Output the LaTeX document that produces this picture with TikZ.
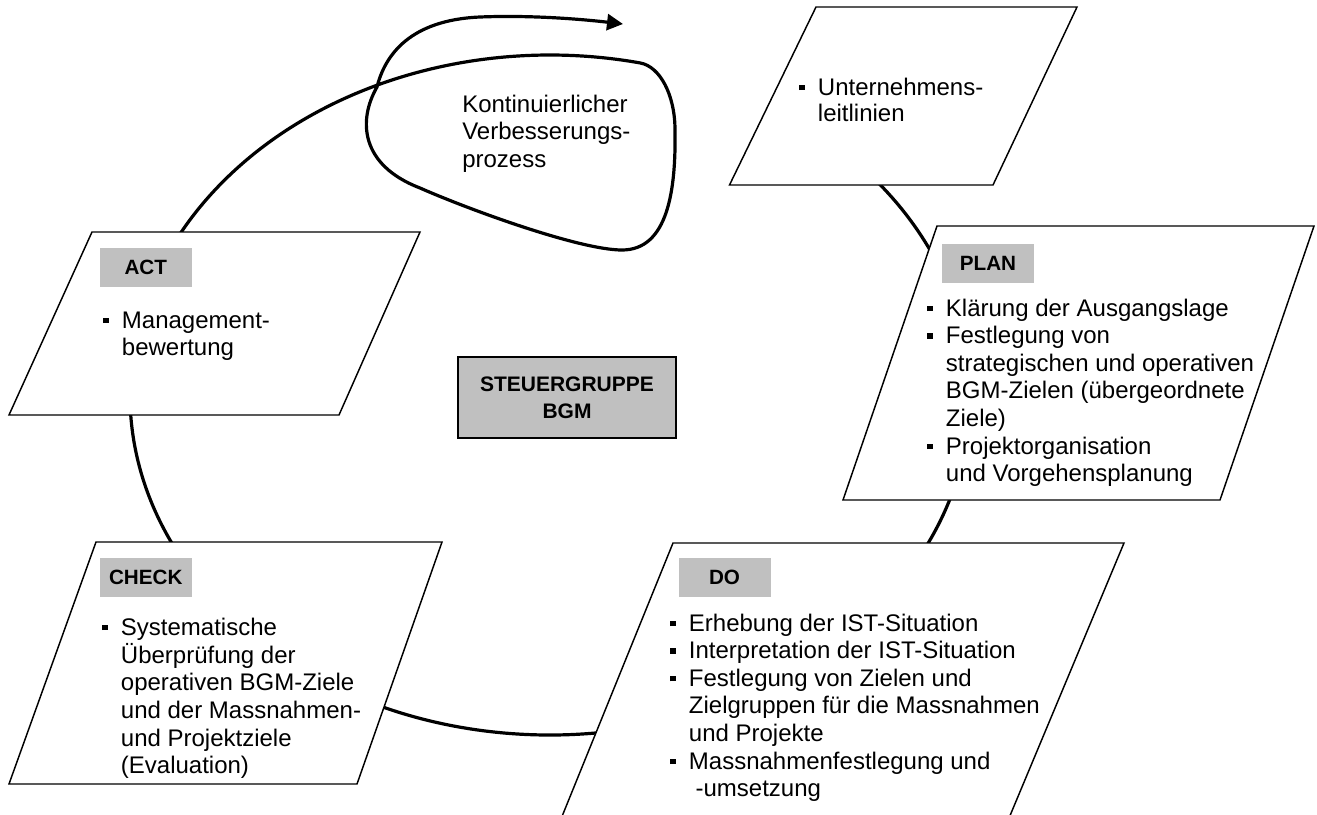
\documentclass[tikz,border=0pt]{standalone}
\usepackage{fontspec}
\setmainfont{Liberation Sans}
\usetikzlibrary{arrows.meta}
\definecolor{lgrey}{RGB}{192,192,192}
\newcommand{\bsq}{\makebox[14pt][l]{\rule[3.6pt]{4pt}{4pt}}}
\newcommand{\ind}{\hspace*{14pt}}
\tikzset{
  pgram/.style={draw=black, fill=white, line width=1.1pt, line join=miter},
  cycleline/.style={line width=2.4pt, line cap=round},
  lab/.style={fill=lgrey, minimum width=69pt, minimum height=29.25pt, inner sep=0pt,
    font=\fontsize{15.5}{18}\selectfont\bfseries},
  body/.style={anchor=base west, inner sep=0pt, font=\fontsize{18}{20.7}\selectfont},
  centerbox/.style={draw=black, fill=lgrey, line width=1.1pt, minimum width=163.5pt,
    minimum height=60.75pt, inner sep=0pt, align=center,
    font=\fontsize{15.75}{19.9}\selectfont\bfseries},
}
\begin{document}
\begin{tikzpicture}[x=0.75pt, y=0.75pt]
\useasboundingbox (0,0) rectangle (1317,-814);
\clip (0,0) rectangle (1317,-814);
\fill[white] (0,0) rectangle (1317,-814);

% PDCA cycle with improvement loop
\path (550,-395) ++(50:315pt and 255pt) coordinate (cstart);
\draw[cycleline, -{Triangle[length=12pt,width=12pt]}] (cstart)
  arc[start angle=50, end angle=-282.4, x radius=315pt, y radius=255pt]
  .. controls (660,-66.5) and (675,-95) .. (675,-130)
  .. controls (676,-190) and (668,-250) .. (622,-250)
  .. controls (580,-250) and (470,-210) .. (420,-188)
  .. controls (360,-165) and (358,-120) .. (377,-87)
  .. controls (385,-55) and (410,-20) .. (480,-17)
  .. controls (530,-15) and (580,-19) .. (623,-24);

% parallelograms
\draw[pgram] (816,-7) -- (1077,-7) -- (993,-185) -- (729.5,-185) -- cycle;
\draw[pgram] (937,-226) -- (1314,-226) -- (1220,-500) -- (843,-500) -- cycle;
\draw[pgram] (673,-543) -- (1124,-543) -- (1004,-830) -- (556.5,-830) -- cycle;
\draw[pgram] (96,-542) -- (442,-542) -- (357,-784) -- (9,-784) -- cycle;
\draw[pgram] (92,-232) -- (420,-232) -- (339,-415) -- (9,-415) -- cycle;

% centre box
\node[centerbox] (steuer) at (567,-397.5) {STEUERGRUPPE\\BGM};

% loop text
\node[body] (kvp) at (462,-112) {\begin{tabular}[t]{@{}l@{}}Kontinuierlicher\\Verbesserungs-\\prozess\end{tabular}};

% labels
\node[lab] (actlab) at (145.8,-267.5) {ACT};
\node[lab] (planlab) at (988,-263.5) {PLAN};
\node[lab] (checklab) at (145.8,-577.5) {CHECK};
\node[lab] (dolab) at (724.5,-577.5) {DO};

% body texts
\node[body, font=\fontsize{18}{19.5}\selectfont] (untxt) at (799,-95) {\begin{tabular}[t]{@{}l@{}}\bsq Unternehmens-\\\ind leitlinien\end{tabular}};

\node[body] (acttxt) at (103,-328) {\begin{tabular}[t]{@{}l@{}}\bsq Management-\\\ind bewertung\end{tabular}};

\node[body] (plantxt) at (927,-316) {\begin{tabular}[t]{@{}l@{}}%
\bsq Klärung der Ausgangslage\\
\bsq Festlegung von\\
\ind strategischen und operativen\\
\ind BGM-Zielen (übergeordnete\\
\ind Ziele)\\
\bsq Projektorganisation\\
\ind und Vorgehensplanung\end{tabular}};

\node[body] (dotxt) at (670,-631) {\begin{tabular}[t]{@{}l@{}}%
\bsq Erhebung der IST-Situation\\
\bsq Interpretation der IST-Situation\\
\bsq Festlegung von Zielen und\\
\ind Zielgruppen für die Massnahmen\\
\ind und Projekte\\
\bsq Massnahmenfestlegung und\\
\ind\ -umsetzung\end{tabular}};

\node[body] (checktxt) at (102,-635) {\begin{tabular}[t]{@{}l@{}}%
\bsq Systematische\\
\ind Überprüfung der\\
\ind operativen BGM-Ziele\\
\ind und der Massnahmen-\\
\ind und Projektziele\\
\ind (Evaluation)\end{tabular}};
\end{tikzpicture}
\end{document}
